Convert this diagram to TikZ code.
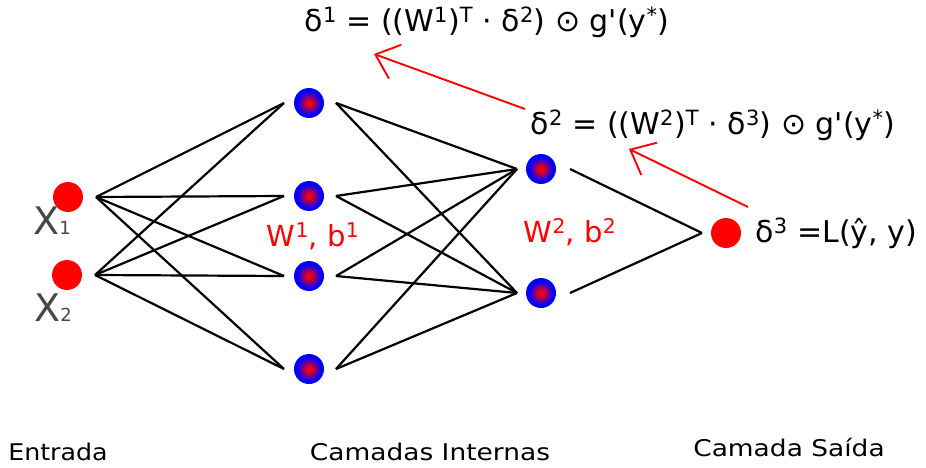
\documentclass[tikz,border=0pt]{standalone}
\usepackage{fontspec}
\setmainfont{DejaVu Sans}[Ligatures=TeXOff]
\usetikzlibrary{arrows.meta,positioning}

\pgfdeclareradialshading{neuronshade}{\pgfpoint{0bp}{0bp}}{%
  color(0bp)=(red); color(3bp)=(red); color(12bp)=(red!45!blue);
  color(20bp)=(blue); color(50bp)=(blue)}
\newcommand{\widetext}[1]{\scalebox{1.15}[1]{#1}}

\tikzset{
  neuron/.style={circle, minimum size=30pt, inner sep=0pt, outer sep=10pt},
  inneuron/.style={neuron, fill=red},
  hidneuron/.style={neuron, shading=neuronshade},
  wire/.style={black, line width=2.2pt},
  backprop/.style={red, line width=1.9pt, -{Straight Barb[length=21pt,width=36pt,line width=1.9pt]}},
  formula/.style={font=\fontsize{30}{34}\selectfont},
  weight/.style={red, font=\fontsize{29}{32}\selectfont},
  layername/.style={font=\fontsize{23}{26}\selectfont},
  inputname/.style={text=black!72, font=\fontsize{38}{40}\selectfont}
}

\begin{document}
\begin{tikzpicture}[x=1pt, y=-1pt]
\useasboundingbox (0,0) rectangle (926,468);

% Neurons
\node[inneuron] (x1) at (68,197) {};
\node[inneuron] (x2) at (67,275) {};
\node[hidneuron] (h1) at (309,103) {};
\node[hidneuron] (h2) at (309,196) {};
\node[hidneuron] (h3) at (309,276) {};
\node[hidneuron] (h4) at (309,369) {};
\node[hidneuron] (g1) at (541,169) {};
\node[hidneuron] (g2) at (541,293) {};
\node[inneuron] (out) at (726,233) {};

% Connections
\foreach \i in {x1,x2}
    \foreach \j in {h1,h2,h3,h4}
        \draw[wire] ([xshift=3pt]\i.east) -- (\j.west);
\foreach \i in {h1,h2,h3,h4}
    \foreach \j in {g1,g2}
        \draw[wire] ([xshift=2pt]\i.east) -- ([xshift=1pt]\j.west);
\foreach \i in {g1,g2}
    \draw[wire] ([xshift=4pt]\i.east) -- ([xshift=1pt]out.west);

% Input labels
\node[inputname] (lx1) at (52,221) {X\fontsize{18}{20}\selectfont 1};
\node[inputname] (lx2) at (53,308) {X\fontsize{18}{20}\selectfont 2};

% Weights
\node[weight] (w1) at (313,236) {W\textsuperscript{1}, b\textsuperscript{1}};
\node[weight] (w2) at (570,232) {W\textsuperscript{2}, b\textsuperscript{2}};

% Deltas
\node[formula, right=1pt of out] (d3) {δ\textsuperscript{3} =L(ŷ, y)};
\node[formula] (d2) at (713,125) {δ\textsuperscript{2} = ((W\textsuperscript{2})\textsuperscript{T} · δ\textsuperscript{3}) ⊙ g'(y\textsuperscript{*})};
\node[formula] (d1) at (487,22) {δ\textsuperscript{1} = ((W\textsuperscript{1})\textsuperscript{T} · δ\textsuperscript{2}) ⊙ g'(y\textsuperscript{*})};

% Backpropagation arrows
\coordinate (b3) at (748,207);
\coordinate (b2) at (629,149);
\coordinate (c2) at (525,109);
\coordinate (c1) at (374,54);
\draw[backprop] (b3) -- (b2);
\draw[backprop] (c2) -- (c1);

% Layer names
\node[layername] (entrada) at (58,452) {\scalebox{1.1}[1]{Entrada}};
\node[layername] (internas) at (430,452) {\widetext{Camadas Internas}};
\node[layername] (saida) at (789,447) {\widetext{Camada Saída}};
\end{tikzpicture}
\end{document}
